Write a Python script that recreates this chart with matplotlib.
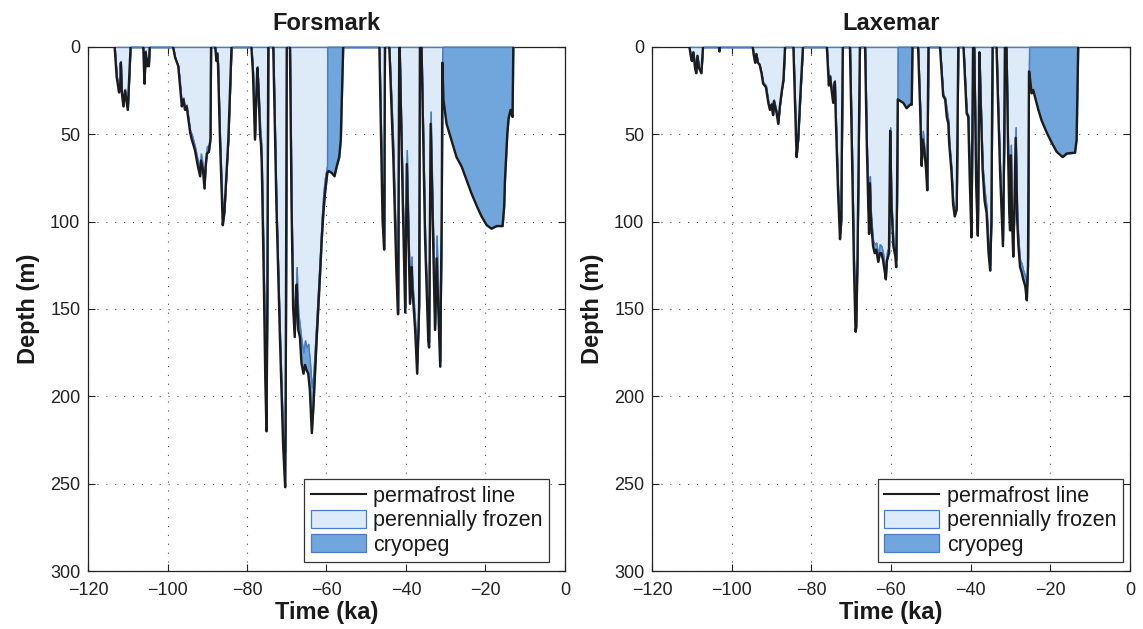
import numpy as np
import matplotlib
matplotlib.use('Agg')
import matplotlib.pyplot as plt
from matplotlib.patches import Patch
from matplotlib.lines import Line2D

plt.rcParams['font.family'] = ['Liberation Sans', 'DejaVu Sans']

# ---------------- data ----------------
titles = ['Forsmark', 'Laxemar']
legend_labels = ['permafrost line', 'perennially frozen', 'cryopeg']
x_ticks = [-120, -100, -80, -60, -40, -20, 0]
y_ticks = [0, 50, 100, 150, 200, 250, 300]

# Forsmark: time (ka), permafrost depth (m), perennially frozen depth (m)
fm_time = [-113.3, -112.8, -112.2, -111.9, -111.75, -111.5, -111.1, -110.7, -110.0, -109.3,
           -106.1, -105.8, -105.5, -105.2, -104.9, -104.7, -104.5,
           -98.6, -98.1, -97.3, -96.9, -96.4, -96.0, -95.6, -95.2, -94.3, -93.9, -93.1, -92.3,
           -91.8, -91.6, -91.1, -90.7, -90.4, -90.1, -89.6, -89.2, -89.05,
           -88.0, -87.7, -87.5, -87.3, -86.8, -86.1, -85.7, -84.7, -83.9,
           -78.9, -78.5, -78.0, -77.7, -77.4, -77.1, -76.7, -76.5, -76.3, -75.8, -75.4, -75.1,
           -74.9, -74.65,
           -73.4, -72.6, -71.7, -70.9, -70.4, -70.25, -70.0,
           -69.2, -68.8, -68.4, -68.0, -67.7, -67.5, -67.3, -67.1, -66.7, -66.3, -65.8, -65.4,
           -65.0, -64.6, -64.2, -63.7, -63.3, -62.5, -61.6, -61.2, -60.8, -60.4, -60.0, -59.85,
           -59.8, -59.5, -58.7, -58.0, -57.4, -56.8, -56.4, -56.2, -55.8,
           -46.7, -45.9, -45.5, -45.3,
           -44.2, -43.2, -42.4, -42.0, -41.7,
           -41.6, -40.9, -40.2, -39.8, -39.0, -38.6, -38.4, -37.7, -37.2, -36.7, -36.5,
           -36.1, -35.2, -34.4, -34.2, -33.8, -32.7, -32.3, -31.4, -31.0, -30.85,
           -30.8, -30.6, -29.8, -28.1, -27.3, -26.0, -24.8, -23.5, -22.2, -21.0, -19.7, -18.5,
           -17.2, -15.7, -15.3, -15.1, -14.5, -14.2, -13.7, -13.2, -13.0]
fm_perma = [0, 17, 26, 22, 9, 26, 34, 25, 36, 0,
            0, 21, 3, 11, 7, 11, 0,
            0, 6, 11, 21, 34, 30, 36, 34, 49, 53, 59, 69,
            74, 65, 70, 81, 68, 61, 60, 53, 0,
            0, 8, 4, 10, 53, 102, 95, 53, 0,
            0, 15, 53, 30, 12, 25, 51, 55, 66, 130, 190, 220,
            150, 0,
            0, 91, 168, 229, 252, 190, 0,
            0, 91, 149, 166, 145, 136, 150, 162, 166, 181, 187, 182,
            185, 187, 196, 221, 206, 168, 129, 110, 95, 84, 76, 73,
            72, 71, 72, 74, 68, 63, 53, 34, 0,
            0, 99, 116, 0,
            0, 63, 130, 153, 0,
            0, 80, 152, 67, 147, 126, 138, 162, 187, 149, 0,
            0, 110, 168, 172, 44, 162, 121, 183, 90, 9,
            12, 30, 44, 57, 63, 68.5, 76, 84, 91, 97, 102, 104,
            102.5, 102.5, 91, 76, 49, 41, 36, 40, 0]
fm_frozen = [0, 16, 25, 21, 8, 25, 33, 24, 35, 0,
             0, 20, 2, 10, 6, 10, 0,
             0, 6, 11, 20, 33, 29, 35, 33, 48, 50, 57, 66,
             72, 61, 68, 78, 66, 57, 56, 51, 0,
             0, 7, 3, 9, 52, 98, 93, 52, 0,
             0, 14, 51, 29, 11, 24, 46, 52, 64, 126, 180, 200,
             140, 0,
             0, 90, 166, 225, 232, 180, 0,
             0, 90, 147, 162, 140, 126, 142, 152, 160, 168, 175, 168,
             172, 170, 180, 195, 188, 155, 117, 98, 84, 75, 70, 68,
             0, 0, 0, 0, 0, 0, 0, 0, 0,
             0, 95, 114, 0,
             0, 57, 128, 151, 0,
             0, 78, 149, 59, 144, 120, 134, 158, 180, 145, 0,
             0, 108, 165, 169, 37, 159, 108, 180, 85, 5,
             0, 0, 0, 0, 0, 0, 0, 0, 0, 0, 0, 0,
             0, 0, 0, 0, 0, 0, 0, 0, 0]

# Laxemar
lx_time = [-110.6, -110.2, -110.0, -109.6, -109.2, -108.9, -108.6, -108.2, -107.6, -107.2,
           -103.2, -103.1, -103.0,
           -94.7, -94.5, -94.1, -93.8, -93.4, -93.0, -92.5, -92.1, -91.4, -90.8, -90.4, -90.0,
           -89.6, -89.4, -88.7, -88.3, -87.9, -87.4, -87.0, -86.6,
           -84.5, -84.0, -83.7, -83.3, -82.7, -82.1,
           -76.1, -75.6, -75.3, -74.9, -74.5, -74.1, -73.8, -73.3, -72.8, -72.5, -72.1,
           -70.3, -69.8, -69.3, -68.9, -68.7, -68.4, -67.8,
           -66.5, -66.1, -65.7, -65.5, -65.3, -65.1, -64.9, -64.5, -64.1, -63.7, -63.2, -62.8,
           -62.4, -62.0, -61.6, -61.3, -61.0, -60.5, -60.2, -59.9, -59.4, -58.9, -58.7, -58.5,
           -58.35, -58.3, -57.6, -56.9, -56.1, -55.2, -54.8, -54.6,
           -53.2, -52.7, -52.3, -52.0, -51.6, -51.2, -50.9, -50.6,
           -47.7, -46.9, -46.4, -46.0, -45.6, -45.4, -44.8, -44.4, -44.0, -43.5, -43.1,
           -41.8, -41.0, -40.6, -40.2, -39.8, -39.4,
           -39.1, -38.6, -38.2, -38.0, -37.8, -37.5, -37.0, -36.5, -36.0, -35.5, -35.1, -34.8,
           -34.5,
           -33.5, -33.1, -32.6, -31.9, -31.6, -31.4,
           -31.0, -30.6, -30.3, -30.1, -29.9, -29.6, -29.3, -29.0, -28.7, -28.3, -28.0, -27.6,
           -27.2, -26.8, -26.3, -25.9, -25.6, -25.35,
           -25.3, -24.7, -24.3, -23.8, -23.0, -22.2, -20.9, -19.6, -18.4, -16.9, -15.9, -13.8,
           -13.4, -13.0]
lx_perma = [0, 6, 8, 3, 12, 15, 5, 12, 15, 0,
            0, 2.5, 0,
            0, 4, 9, 4, 9, 10, 15, 21, 23, 32, 36, 33,
            39, 31, 38, 44, 34, 25, 19, 0,
            0, 40, 63, 53, 25, 0,
            0, 22, 17, 25, 32, 20, 45, 82, 110, 100, 0,
            0, 60, 125, 163, 160, 120, 0,
            0, 53, 91, 107, 78, 95, 103, 114, 118, 116, 123, 118,
            118, 122, 128, 133, 122, 118, 48, 90, 114, 120, 126, 91,
            44, 30, 31, 32, 35, 33, 33, 0,
            0, 34, 68, 53, 60, 70, 82, 0,
            0, 28, 30, 40, 44, 55, 72, 90, 97, 93, 0,
            0, 38, 40, 78, 109, 0,
            0, 80, 108, 60, 3, 30, 70, 88, 95, 118, 128, 100,
            0,
            0, 34, 72, 114, 60, 0,
            0, 60, 95, 105, 62, 100, 120, 90, 52, 100, 114, 126,
            129, 133, 137, 145, 125, 14,
            14, 26.5, 24.6, 29, 36, 42, 49, 55, 60, 63, 61, 60.5,
            53, 0]
lx_frozen = [0, 6, 8, 3, 12, 14, 5, 12, 14, 0,
             0, 2.5, 0,
             0, 4, 9, 4, 9, 10, 15, 20, 22, 31, 35, 32,
             38, 30, 37, 43, 33, 24, 18, 0,
             0, 40, 62, 52, 25, 0,
             0, 21, 16, 24, 31, 19, 44, 81, 107, 98, 0,
             0, 59, 122, 150, 150, 115, 0,
             0, 52, 90, 105, 74, 92, 100, 111, 113, 112, 119, 113,
             114, 118, 124, 128, 117, 114, 46, 88, 111, 117, 122, 88,
             40, 0, 0, 0, 0, 0, 0, 0,
             0, 33, 67, 48, 58, 68, 80, 0,
             0, 27, 29, 36, 42, 53, 70, 88, 93, 89, 0,
             0, 37, 39, 76, 107, 0,
             0, 78, 104, 58, 3, 29, 68, 82, 92, 115, 125, 97,
             0,
             0, 33, 71, 111, 58, 0,
             0, 59, 93, 102, 56, 97, 117, 87, 46, 97, 111, 122,
             124, 128, 131, 138, 120, 10,
             0, 0, 0, 0, 0, 0, 0, 0, 0, 0, 0, 0,
             0, 0]

panels = [(fm_time, fm_perma, fm_frozen), (lx_time, lx_perma, lx_frozen)]

# ---------------- style ----------------
light = '#DDEBF8'
dark = '#70A6DB'
edge = '#4A7BC6'
linec = '#1c1c1c'

fig = plt.figure(figsize=(11.43, 6.29), dpi=100)
axes = [fig.add_axes([0.0770, 0.0922, 0.4173, 0.8331]),
        fig.add_axes([0.5704, 0.0922, 0.4182, 0.8331])]
leg_anchor = [(0.9665, 0.0172), (0.985, 0.0172)]


def broken_line(t, p):
    lt, lp = [], []
    for i in range(len(t)):
        if i > 0 and p[i] == 0 and p[i - 1] == 0:
            lt.append(np.nan)
            lp.append(np.nan)
        lt.append(t[i])
        lp.append(p[i])
    return lt, lp


for k, ax in enumerate(axes):
    t, p, f = (np.asarray(a, dtype=float) for a in panels[k])
    ax.set_axisbelow(True)
    ax.grid(True, linestyle=(0, (1, 7)), color='0.3', linewidth=0.8)
    ax.fill_between(t, 0, f, facecolor=light, edgecolor=edge, linewidth=1.0,
                    zorder=3, clip_on=False)
    ax.fill_between(t, f, p, facecolor=dark, edgecolor=edge, linewidth=1.0,
                    zorder=3.1, clip_on=False)
    lt, lp = broken_line(t, p)
    ax.plot(lt, lp, color=linec, linewidth=1.7, zorder=4)

    ax.set_xlim(-120, 0)
    ax.set_ylim(300, 0)
    ax.set_xticks(x_ticks)
    ax.set_yticks(y_ticks)
    ax.tick_params(direction='in', length=5, width=0.8, top=True, right=True,
                   labelsize=13, colors='#222222')
    ax.tick_params(axis='x', pad=8)
    ax.tick_params(axis='y', pad=5.5)
    for s in ax.spines.values():
        s.set_linewidth(0.9)
        s.set_color('#222222')
    ax.set_title(titles[k], fontsize=17, fontweight='bold', pad=12, color='#1a1a1a')
    ax.set_xlabel('Time (ka)', fontsize=17, fontweight='bold', labelpad=1, color='#1a1a1a')
    ax.set_ylabel('Depth (m)', fontsize=17, fontweight='bold', labelpad=7, color='#1a1a1a')

    handles = [Line2D([], [], color=linec, linewidth=1.5),
               Patch(facecolor=light, edgecolor=edge, linewidth=0.9),
               Patch(facecolor=dark, edgecolor=edge, linewidth=0.9)]
    leg = ax.legend(handles, legend_labels, loc='lower right',
                    bbox_to_anchor=leg_anchor[k], fontsize=15.5, frameon=True,
                    fancybox=False, framealpha=1, edgecolor='#333333',
                    borderpad=0.3, labelspacing=0.12, handlelength=2.55,
                    handleheight=0.95, handletextpad=0.35, borderaxespad=0)
    leg.get_frame().set_linewidth(0.9)
    leg.set_zorder(10)
    for txt in leg.get_texts():
        txt.set_color('#1a1a1a')

fig.savefig('out.png', dpi=100)
